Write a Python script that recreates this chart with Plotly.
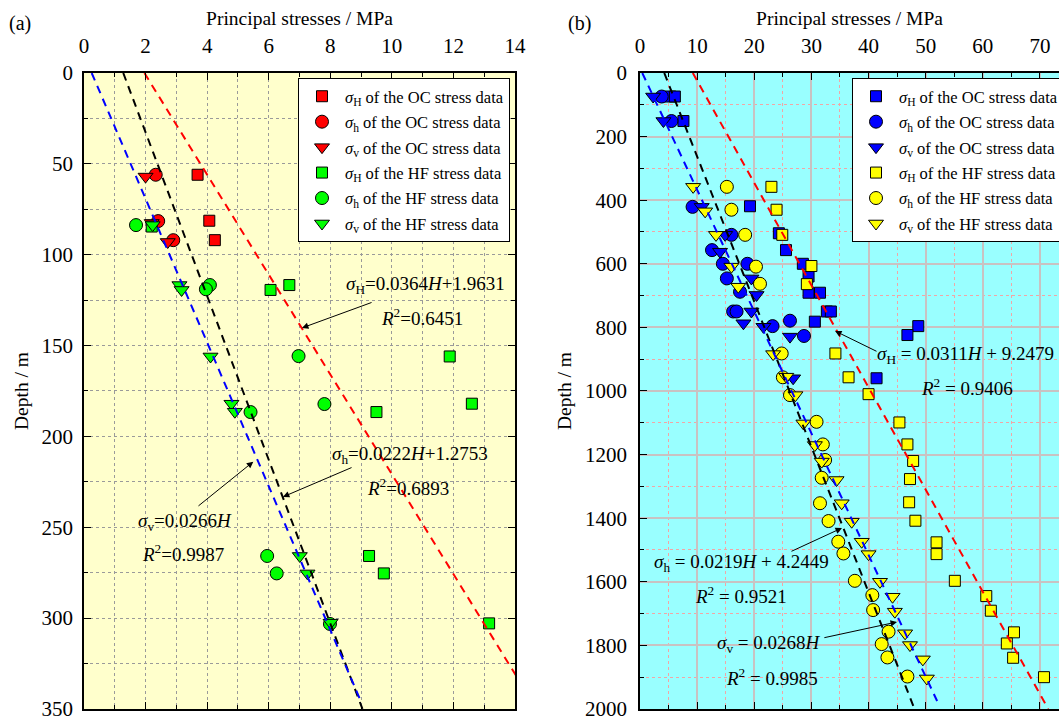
import plotly.graph_objects as go

# ---------------- data: panel (a) ----------------
a_oc_H_x = [3.69, 4.07, 4.25]
a_oc_H_y = [56, 81.3, 92]
a_oc_h_x = [2.33, 2.41, 2.90]
a_oc_h_y = [56, 81.5, 92]
a_oc_v_x = [2.00, 2.20, 2.72]
a_oc_v_y = [57, 82.5, 93]
a_hf_H_x = [2.20, 6.06, 6.67, 11.88, 12.60, 9.50, 9.26, 9.74, 13.16]
a_hf_H_y = [84.5, 119.4, 116.7, 156, 182, 186.6, 265.8, 275.4, 302.9]
a_hf_h_x = [1.69, 4.09, 3.96, 6.97, 7.81, 5.41, 5.95, 6.26, 7.99]
a_hf_h_y = [83.7, 116.7, 119, 155.8, 182.2, 186.6, 265.8, 275.4, 303.2]
a_hf_v_x = [2.23, 3.10, 3.17, 4.11, 4.79, 4.90, 7.01, 7.26, 8.01]
a_hf_v_y = [83.7, 116.7, 119.4, 156, 182, 186.4, 265.8, 275.4, 302.5]
a_fitH_depth = [0, 350]
a_fitH_x = [1.9631, 14.7031]
a_fith_depth = [0, 350]
a_fith_x = [1.2753, 9.0453]
a_fitv_depth = [0, 346]
a_fitv_x = [0.25, 9.0]

# ---------------- data: panel (b) ----------------
b_oc_H_x = [5.3, 6.1, 7.6, 19.25, 24.3, 25.55, 28.5, 29.5, 29.5, 31.5, 32.7, 33.4, 30.6, 48.7, 46.8, 41.4]
b_oc_H_y = [74, 74, 151, 419, 504, 557, 600, 640, 691, 691, 750, 750, 782, 796, 824, 960]
b_oc_h_x = [3.8, 5.5, 9.2, 16.0, 12.6, 14.5, 18.8, 15.2, 17.5, 16.3, 16.9, 26.25, 23.2, 28.7]
b_oc_h_y = [74, 151, 421, 509, 557, 600, 600, 646, 688, 750, 750, 779, 796, 827]
b_oc_v_x = [2.3, 4.1, 10.8, 14.9, 14.0, 19.5, 20.4, 19.5, 18.1, 21.6, 26.25, 26.8]
b_oc_v_y = [74, 151, 421, 509, 562, 646, 698, 750, 787, 798, 829, 960]
b_hf_H_x = [23.0, 23.9, 24.9, 30.0, 29.2, 34.2, 36.5, 40.0, 45.4, 46.8, 47.8, 47.25, 47.1, 48.2,
            51.9, 51.9, 55.1, 60.6, 61.4, 65.45, 64.2, 65.3, 70.7]
b_hf_H_y = [358, 430, 509, 607, 664, 882, 957, 1010, 1099, 1168, 1220, 1277, 1350, 1408,
            1476, 1513, 1597, 1645, 1691, 1759, 1794, 1839, 1900]
b_hf_h_x = [15.2, 16.0, 18.4, 20.3, 21.0, 24.8, 25.0, 26.25, 30.9, 32.0, 32.4, 31.8, 31.5, 33.0,
            34.7, 35.6, 37.6, 40.66, 40.8, 43.5, 42.3, 43.3, 46.8]
b_hf_h_y = [358, 430, 509, 609, 663, 882, 957, 1013, 1097, 1168, 1217, 1273, 1353, 1409,
            1474, 1511, 1597, 1642, 1689, 1757, 1796, 1838, 1898]
b_hf_v_x = [9.3, 11.4, 13.3, 16.0, 17.2, 23.3, 25.6, 27.2, 28.6, 30.6, 31.8, 34.4, 35.3, 37.05,
            38.8, 40.0, 42.0, 44.2, 44.6, 46.4, 47.25, 49.5, 50.2]
b_hf_v_y = [358, 435, 509, 609, 672, 884, 955, 1013, 1102, 1170, 1222, 1280, 1353, 1411,
            1474, 1513, 1600, 1647, 1694, 1762, 1799, 1844, 1904]
b_fitH_depth = [0, 2000]
b_fitH_x = [9.2479, 71.4479]
b_fith_depth = [0, 2000]
b_fith_x = [4.2449, 48.0449]
b_fitv_depth = [0, 1975]
b_fitv_x = [0.4, 52.0]

legend_names = [
    "<i>σ</i><sub>H</sub> of the OC stress data",
    "<i>σ</i><sub>h</sub> of the OC stress data",
    "<i>σ</i><sub>v</sub> of the OC stress data",
    "<i>σ</i><sub>H</sub> of the HF stress data",
    "<i>σ</i><sub>h</sub> of the HF stress data",
    "<i>σ</i><sub>v</sub> of the HF stress data",
]

FONT = "Liberation Serif"
W, H = 1059, 717
fig = go.Figure()


def pts(x, y, name, symbol, color, size, xa, ya, leg, grp):
    fig.add_trace(go.Scatter(
        x=x, y=y, mode="markers", name=name, xaxis=xa, yaxis=ya,
        legend=leg, legendgroup=grp,
        marker=dict(symbol=symbol, color=color, size=size,
                    line=dict(color="black", width=1))))


def fit(x, y, color, xa, ya):
    fig.add_trace(go.Scatter(
        x=x, y=y, mode="lines", showlegend=False, xaxis=xa, yaxis=ya,
        line=dict(color=color, width=2, dash="8px,6px"), hoverinfo="skip"))


RED, GREEN, BLUE, YEL = "#FF0000", "#00FF00", "#0000FF", "#FFFF00"
SQ, CI, TR = 11, 13, 13

pts(a_oc_H_x, a_oc_H_y, legend_names[0], "square", RED, SQ, "x", "y", "legend", "a1")
pts(a_oc_h_x, a_oc_h_y, legend_names[1], "circle", RED, CI, "x", "y", "legend", "a2")
pts(a_oc_v_x, a_oc_v_y, legend_names[2], "triangle-down", RED, TR, "x", "y", "legend", "a3")
pts(a_hf_H_x, a_hf_H_y, legend_names[3], "square", GREEN, SQ, "x", "y", "legend", "a4")
pts(a_hf_h_x, a_hf_h_y, legend_names[4], "circle", GREEN, CI, "x", "y", "legend", "a5")
pts(a_hf_v_x, a_hf_v_y, legend_names[5], "triangle-down", GREEN, TR, "x", "y", "legend", "a6")
fit(a_fitH_x, a_fitH_depth, RED, "x", "y")
fit(a_fith_x, a_fith_depth, "black", "x", "y")
fit(a_fitv_x, a_fitv_depth, BLUE, "x", "y")

pts(b_oc_H_x, b_oc_H_y, legend_names[0], "square", BLUE, SQ, "x2", "y2", "legend2", "b1")
pts(b_oc_h_x, b_oc_h_y, legend_names[1], "circle", BLUE, CI, "x2", "y2", "legend2", "b2")
pts(b_oc_v_x, b_oc_v_y, legend_names[2], "triangle-down", BLUE, TR, "x2", "y2", "legend2", "b3")
pts(b_hf_H_x, b_hf_H_y, legend_names[3], "square", YEL, SQ, "x2", "y2", "legend2", "b4")
pts(b_hf_h_x, b_hf_h_y, legend_names[4], "circle", YEL, CI, "x2", "y2", "legend2", "b5")
pts(b_hf_v_x, b_hf_v_y, legend_names[5], "triangle-down", YEL, TR, "x2", "y2", "legend2", "b6")
fit(b_fitH_x, b_fitH_depth, RED, "x2", "y2")
fit(b_fith_x, b_fith_depth, "black", "x2", "y2")
fit(b_fitv_x, b_fitv_depth, BLUE, "x2", "y2")

ydom = [1 - 709 / H, 1 - 73 / H]
tickfont = dict(family=FONT, size=21, color="black")
titlefont = dict(family=FONT, size=19.5, color="black")

common = dict(ticks="inside", ticklen=7, tickwidth=1.2, tickcolor="black",
              showline=True, linecolor="black", linewidth=1.5,
              tickfont=tickfont, zeroline=False, ticklabeloverflow="allow",
              automargin=False)

grid_a = dict(showgrid=True, gridcolor="#9a9a9a", gridwidth=1, griddash="3px,3px")

fig.update_layout(
    width=W, height=H,
    margin=dict(l=0, r=0, t=0, b=0, autoexpand=False),
    paper_bgcolor="white", plot_bgcolor="rgba(0,0,0,0)",
    font=dict(family=FONT, color="black"),
    xaxis=dict(domain=[84 / W, 515 / W], anchor="y", side="top", range=[0, 14.001],
               tick0=0, dtick=2, mirror="allticks", ticklabelstandoff=10,
               title=dict(text="Principal stresses / MPa", font=titlefont, standoff=3),
               minor=dict(dtick=1, ticks="inside", ticklen=4, tickcolor="black",
                          **grid_a),
               **grid_a, **common),
    yaxis=dict(domain=ydom, anchor="x", range=[350.02, 0], tick0=0, dtick=50,
               mirror="allticks", ticklabelstandoff=5,
               title=dict(text="Depth / m", font=titlefont, standoff=8),
               minor=dict(dtick=25, ticks="inside", ticklen=4, tickcolor="black",
                          **grid_a),
               **grid_a, **common),
    xaxis2=dict(domain=[640 / W, 1.0], anchor="y2", side="top", range=[0, 419 / 5.714],
                tick0=0, dtick=10, mirror="allticks", ticklabelstandoff=10,
                title=dict(text="Principal stresses / MPa", font=titlefont, standoff=3),
                showgrid=True, gridcolor="#C9C2C2", gridwidth=1.5,
                minor=dict(dtick=5, ticks="inside", ticklen=4, tickcolor="black",
                           showgrid=True, gridcolor="#F2A5A5", gridwidth=1,
                           griddash="3px,3px"),
                **common),
    yaxis2=dict(domain=ydom, anchor="x2", range=[2000.1, 0], tick0=0, dtick=200,
                mirror=False, ticklabelstandoff=7,
                title=dict(text="Depth / m", font=titlefont, standoff=8),
                showgrid=True, gridcolor="#C9C2C2", gridwidth=1.5,
                minor=dict(dtick=100, ticks="inside", ticklen=4, tickcolor="black",
                           showgrid=True, gridcolor="#F2A5A5", gridwidth=1,
                           griddash="3px,3px"),
                **common),
    legend=dict(x=298 / W, y=1 - 78 / H, xanchor="left", yanchor="top",
                bgcolor="white", bordercolor="black", borderwidth=1,
                font=dict(family=FONT, size=16.5, color="black"),
                tracegroupgap=1, itemclick=False, itemwidth=36),
    legend2=dict(x=852 / W, y=1 - 78 / H, xanchor="left", yanchor="top",
                 bgcolor="white", bordercolor="black", borderwidth=1,
                 font=dict(family=FONT, size=16.5, color="black"),
                 tracegroupgap=1, itemclick=False, itemwidth=36),
    shapes=[
        dict(type="rect", xref="x domain", yref="y domain", x0=0, x1=1, y0=0, y1=1,
             fillcolor="#FFFFCC", line=dict(width=0), layer="below"),
        dict(type="rect", xref="x2 domain", yref="y2 domain", x0=0, x1=1, y0=0, y1=1,
             fillcolor="#99FFFF", line=dict(width=0), layer="below"),
    ],
)

afont = dict(family=FONT, size=19, color="black")
ann = []


def label(text, x, y, xr, yr):
    ann.append(dict(text=text, x=x, y=y, xref=xr, yref=yr, showarrow=False,
                    font=afont, xanchor="center", yanchor="middle"))


def arrow(x, y, ax, ay, xr, yr):
    ann.append(dict(text="", x=x, y=y, ax=ax, ay=ay, xref=xr, yref=yr, axref=xr, ayref=yr,
                    showarrow=True, arrowhead=2, arrowsize=1.3, arrowwidth=1,
                    arrowcolor="black"))


# panel (a) annotations
label("<i>σ</i><sub>H</sub>=0.0364<i>H</i>+1.9631", 11.1, 116.7, "x", "y")
label("<i>R</i><sup>2</sup>=0.6451", 10.98, 134.3, "x", "y")
arrow(7.08, 140.3, 9.39, 126.0, "x", "y")
label("<i>σ</i><sub>h</sub>=0.0222<i>H</i>+1.2753", 10.6, 210.2, "x", "y")
label("<i>R</i><sup>2</sup>=0.6893", 10.52, 227.8, "x", "y")
arrow(6.46, 233.3, 8.74, 216.8, "x", "y")
label("<i>σ</i><sub>v</sub>=0.0266<i>H</i>", 3.28, 247.1, "x", "y")
label("<i>R</i><sup>2</sup>=0.9987", 3.22, 264.2, "x", "y")
arrow(5.5, 213.9, 3.67, 238.9, "x", "y")

# panel (b) annotations
label("<i>σ</i><sub>H</sub> = 0.0311<i>H</i> + 9.2479", 57.05, 886.8, "x2", "y2")
label("<i>R</i><sup>2</sup> = 0.9406", 57.2, 987.4, "x2", "y2")
arrow(34.13, 811.3, 41.65, 877.4, "x2", "y2")
label("<i>σ</i><sub>h</sub> = 0.0219<i>H</i> + 4.2449", 17.68, 1541, "x2", "y2")
label("<i>R</i><sup>2</sup> = 0.9521", 17.68, 1641.6, "x2", "y2")
arrow(35.35, 1430.8, 26.25, 1506.3, "x2", "y2")
label("<i>σ</i><sub>v</sub> = 0.0268<i>H</i>", 22.6, 1795.6, "x2", "y2")
label("<i>R</i><sup>2</sup> = 0.9985", 23.1, 1899.4, "x2", "y2")
arrow(44.98, 1726.4, 32.0, 1776.8, "x2", "y2")

# panel tags
tagfont = dict(family=FONT, size=20, color="black")
ann.append(dict(text="(a)", x=20 / W, y=1 - 23 / H, xref="paper", yref="paper",
                showarrow=False, font=tagfont, xanchor="center", yanchor="middle"))
ann.append(dict(text="(b)", x=579 / W, y=1 - 23 / H, xref="paper", yref="paper",
                showarrow=False, font=tagfont, xanchor="center", yanchor="middle"))

fig.update_layout(annotations=ann)
fig.write_html("out.html")
